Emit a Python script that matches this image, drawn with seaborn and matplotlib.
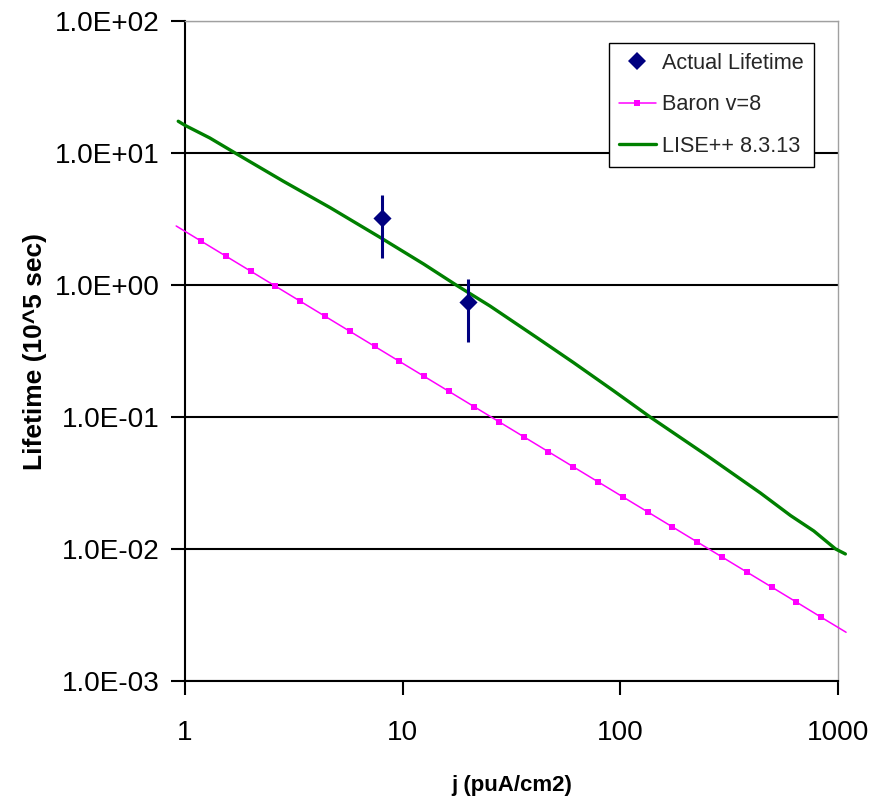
import matplotlib
matplotlib.use("Agg")
import matplotlib.pyplot as plt
import seaborn as sns
import pandas as pd
from matplotlib import font_manager
from matplotlib.lines import Line2D
from matplotlib.ticker import NullLocator

# Measured lifetimes with their uncertainties
actual_j = [8.0, 20.0]
actual_life = [3.2, 0.74]
actual_err = [1.6, 0.37]

# Baron v=8 prediction
baron_j = [0.911, 1.185, 1.540, 2.002, 2.603, 3.384, 4.400, 5.720, 7.437, 9.669,
           12.57, 16.34, 21.25, 27.63, 35.92, 46.70, 60.71, 78.93, 102.6, 133.4,
           173.5, 225.5, 293.2, 381.2, 495.6, 644.3, 837.6, 1089.0]
baron_life = [2.80, 2.152, 1.656, 1.274, 0.980, 0.7535, 0.5795, 0.4458, 0.3429, 0.2637,
              0.2029, 0.1561, 0.1200, 0.0923, 0.0710, 0.0546, 0.0420, 0.0323, 0.02485, 0.01912,
              0.01470, 0.01131, 0.00870, 0.00669, 0.00515, 0.00396, 0.00304, 0.00234]

# LISE++ 8.3.13 calculation
lise_j = [0.931, 1.0, 1.30, 1.70, 2.83, 4.65, 7.89, 12.5, 17.6, 25.2, 41.4, 61.0,
          93.1, 137.0, 251.0, 441.0, 606.0, 774.0, 975.0, 1081.0]
lise_life = [17.4, 16.2, 13.0, 10.0, 6.11, 3.85, 2.29, 1.44, 1.0, 0.693, 0.399, 0.258,
             0.158, 0.1, 0.0508, 0.0265, 0.0179, 0.0137, 0.0100, 0.00917]

x_ticks = [1, 10, 100, 1000]
x_tick_labels = ["1", "10", "100", "1000"]
y_ticks = [1e-3, 1e-2, 1e-1, 1e0, 1e1, 1e2]
y_tick_labels = ["1.0E-03", "1.0E-02", "1.0E-01", "1.0E+00", "1.0E+01", "1.0E+02"]

series_names = ["Actual Lifetime", "Baron v=8", "LISE++ 8.3.13"]

NAVY = "#000080"
MAGENTA = "#FF00FF"
GREEN = "#008000"

sns.set_style("white")
installed = {f.name for f in font_manager.fontManager.ttflist}
if "Liberation Sans Narrow" in installed:
    main_family = "Liberation Sans Narrow"
    scale = 1.0
else:
    main_family = "Liberation Sans"
    scale = 0.82
plt.rcParams["font.family"] = [main_family, "Liberation Sans", "DejaVu Sans"]

fig = plt.figure(figsize=(8.72, 8.01), dpi=100)
ax = fig.add_axes([185 / 872, 1 - 681 / 801, (838 - 185) / 872, (681 - 21) / 801])
ax.set_xscale("log")
ax.set_yscale("log")

lise_df = pd.DataFrame({"j": lise_j, "lifetime": lise_life})
baron_df = pd.DataFrame({"j": baron_j, "lifetime": baron_life})
actual_df = pd.DataFrame({"j": actual_j, "lifetime": actual_life, "err": actual_err})

sns.lineplot(data=lise_df, x="j", y="lifetime", color=GREEN, lw=2.4, ax=ax,
             clip_on=False, zorder=3, legend=False, sort=True, estimator=None)
sns.lineplot(data=baron_df, x="j", y="lifetime", color=MAGENTA, lw=1.1, ax=ax,
             clip_on=False, zorder=3, legend=False, sort=True, estimator=None)
sns.scatterplot(data=baron_df, x="j", y="lifetime", marker="s", s=18, color=MAGENTA,
                edgecolor=MAGENTA, linewidth=0, ax=ax, zorder=4, legend=False)
ax.errorbar(actual_df["j"], actual_df["lifetime"], yerr=actual_df["err"], fmt="none",
            ecolor=NAVY, elinewidth=2.2, capsize=0, zorder=5)
sns.scatterplot(data=actual_df, x="j", y="lifetime", marker="D", s=85, color=NAVY,
                edgecolor=NAVY, linewidth=0, ax=ax, zorder=6, legend=False)

ax.set_xlim(1, 1000)
ax.set_ylim(1e-3, 1e2)
ax.set_xticks(x_ticks)
ax.set_xticklabels(x_tick_labels)
ax.set_yticks(y_ticks)
ax.set_yticklabels(y_tick_labels)
ax.xaxis.set_minor_locator(NullLocator())
ax.yaxis.set_minor_locator(NullLocator())

tick_size = 24.5 * scale
ax.tick_params(axis="x", which="major", bottom=True, direction="out", length=10,
               width=1.5, color="black", labelsize=tick_size, pad=18, labelcolor="black")
ax.tick_params(axis="y", which="major", left=True, direction="out", length=10,
               width=1.5, color="black", labelsize=tick_size, pad=8, labelcolor="black")

ax.grid(axis="y", which="major", color="black", lw=1.5)
ax.grid(axis="x", visible=False)
for side in ("left", "bottom"):
    ax.spines[side].set_color("black")
    ax.spines[side].set_linewidth(1.5)
for side in ("top", "right"):
    ax.spines[side].set_color("#A0A0A0")
    ax.spines[side].set_linewidth(1.0)

ax.set_xlabel("j (puA/cm2)", fontsize=19.5 * scale, fontweight="bold", color="black")
ax.xaxis.set_label_coords(0.5, (681 - 785) / 660)
ax.xaxis.label.set_va("center")
ax.set_ylabel("Lifetime (10^5 sec)", fontsize=19, fontweight="bold", color="black",
              family=["Liberation Sans", "DejaVu Sans"])
ax.yaxis.set_label_coords((35 - 185) / 653, 0.5)
ax.yaxis.label.set_va("center")

handles = [
    Line2D([], [], ls="none", marker="D", markersize=9, color=NAVY, markeredgewidth=0),
    Line2D([], [], color=MAGENTA, lw=1.1, marker="s", markersize=4.3, markeredgewidth=0),
    Line2D([], [], color=GREEN, lw=2.4),
]
leg = ax.legend(handles, series_names, loc="upper left",
                bbox_to_anchor=(609 / 872, 1 - 43 / 801), bbox_transform=fig.transFigure,
                frameon=True, fancybox=False, edgecolor="black", facecolor="white",
                framealpha=1, fontsize=19 * scale, handlelength=1.7, handletextpad=0.3,
                labelspacing=0.95, borderpad=0.45, borderaxespad=0)
leg.get_frame().set_linewidth(1.0)
leg.set_zorder(10)

fig.savefig("out.png", dpi=100, facecolor="white")
